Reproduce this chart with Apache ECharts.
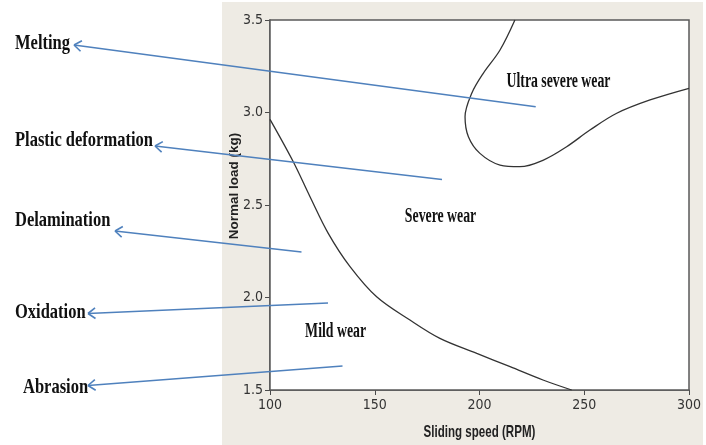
<!DOCTYPE html>
<html>
<head>
<meta charset="utf-8">
<script src="https://cdn.jsdelivr.net/npm/echarts@6/dist/echarts.min.js"></script>
<style>html,body{margin:0;padding:0;background:#fff;}#c{width:706px;height:445px;}</style>
</head>
<body>
<div id="c"></div>
<script>
// ---- data ----
const xTicks = [100, 150, 200, 250, 300];
const yTicks = [1.5, 2.0, 2.5, 3.0, 3.5];
// boundary between mild and severe wear [speed RPM, load kg]
const mildSevereBoundary = [
  [100, 2.963], [111.1, 2.734], [119.1, 2.545], [127.8, 2.347], [138.2, 2.167],
  [150.9, 2.004], [166.8, 1.878], [181.1, 1.779], [198.7, 1.698], [214.6, 1.626],
  [230.3, 1.554], [244.0, 1.5]
];
// boundary of ultra severe wear region
const ultraBoundary = [
  [216.9, 3.5], [209.8, 3.338], [201.8, 3.212], [196.3, 3.104], [193.1, 2.977],
  [194.7, 2.869], [200.2, 2.779], [209.8, 2.716], [219.3, 2.707], [230.5, 2.743],
  [241.6, 2.815], [252.7, 2.905], [265.5, 2.996], [281.4, 3.068], [300, 3.131]
];
const regionNames = ['Ultra severe wear', 'Severe wear', 'Mild wear'];
const regionPoints = [[237.7, 3.165], [181.4, 2.435], [131.3, 1.814]];
const mechanismNames = ['Melting', 'Plastic deformation', 'Delamination', 'Oxidation', 'Abrasion'];
const xTitle = 'Sliding speed (RPM)';
const yTitle = 'Normal load (kg)';

// ---- annotation layout (page pixels) ----
const labelAnchors = [[15, 43], [15, 140], [15, 220], [15, 312], [23, 387.5]];
const arrowTails = [[535.7, 106.7], [442, 179.5], [301.5, 252], [328, 303], [342.5, 366]];
const arrowTips = [[74, 45], [155, 146], [115, 231], [88, 313.5], [88, 385.5]];

const W = 706, H = 445;
const arrowSegs = [];
arrowTails.forEach((t, i) => {
  const p = arrowTips[i];
  arrowSegs.push({coords: [t, p]});
  const ang = Math.atan2(t[1] - p[1], t[0] - p[0]);
  const L = 9, a = 36 * Math.PI / 180;
  [ang + a, ang - a].forEach(g => {
    arrowSegs.push({coords: [p, [p[0] + L * Math.cos(g), p[1] + L * Math.sin(g)]]});
  });
});

const tickFont = '"DejaVu Sans Condensed", "Liberation Sans", sans-serif';
const sans = '"Liberation Sans", Arial, sans-serif';
const chart = echarts.init(document.getElementById('c'), null, {renderer: 'canvas'});
const option = {
  animation: false,
  backgroundColor: '#ffffff',
  grid: [
    {left: 270, right: 17, top: 20, bottom: 55, show: true, backgroundColor: '#ffffff',
     borderColor: '#5a5a5a', borderWidth: 1.5, z: 1},
    {left: 0, right: 0, top: 0, bottom: 0, show: false}
  ],
  xAxis: [
    {type: 'value', gridIndex: 0, min: 100, max: 300, interval: 50,
     axisLine: {show: true, lineStyle: {color: '#4a4a4a', width: 1.5}},
     axisTick: {show: true, inside: false, length: 5, lineStyle: {color: '#4a4a4a', width: 1}},
     axisLabel: {margin: 8, fontFamily: tickFont, fontSize: 14, color: '#333',
       formatter: v => xTicks.includes(v) ? String(v) : ''},
     splitLine: {show: false}},
    {type: 'value', gridIndex: 1, min: 0, max: W, show: false}
  ],
  yAxis: [
    {type: 'value', gridIndex: 0, min: 1.5, max: 3.5, interval: 0.5,
     name: yTitle, nameLocation: 'middle', nameGap: 29, nameRotate: 90, nameMoveOverlap: false,
     nameTextStyle: {fontFamily: sans, fontWeight: 'bold', fontSize: 13.5, color: '#222',
       padding: [0, 0, 0, 38]},
     axisLine: {show: true, lineStyle: {color: '#4a4a4a', width: 1.5}},
     axisTick: {show: true, inside: false, length: 5, lineStyle: {color: '#4a4a4a', width: 1}},
     axisLabel: {margin: 7, fontFamily: tickFont, fontSize: 14, color: '#333',
       formatter: v => yTicks.some(t => Math.abs(t - v) < 1e-9) ? v.toFixed(1) : ''},
     splitLine: {show: false}},
    {type: 'value', gridIndex: 1, min: 0, max: H, inverse: true, show: false}
  ],
  graphic: [
    {type: 'rect', id: 'panel', z: -100, silent: true,
     shape: {x: 222, y: 2, width: 481, height: 443}, style: {fill: '#EEEBE4'}}
  ],
  series: [
    {type: 'line', xAxisIndex: 0, yAxisIndex: 0, data: mildSevereBoundary, smooth: 0.35,
     symbol: 'none', lineStyle: {color: '#333', width: 1.3}, z: 3},
    {type: 'line', xAxisIndex: 0, yAxisIndex: 0, data: ultraBoundary, smooth: 0.35,
     symbol: 'none', lineStyle: {color: '#333', width: 1.3}, z: 3},
    {type: 'lines', coordinateSystem: 'cartesian2d', xAxisIndex: 1, yAxisIndex: 1,
     data: arrowSegs, symbol: 'none',
     lineStyle: {color: '#4F81BD', width: 1.6, opacity: 1, curveness: 0}, z: 5}
  ]
};
chart.setOption(option);

const serif = '"Liberation Serif", "Times New Roman", serif';
const texts = [];
mechanismNames.forEach((n, i) => {
  texts.push({type: 'text', z: 10, x: labelAnchors[i][0], y: labelAnchors[i][1],
    scaleX: 0.75, scaleY: 1, originX: 0, originY: 0,
    style: {text: n, fill: '#111', fontFamily: serif, fontWeight: 'bold', fontSize: 22,
      align: 'left', verticalAlign: 'middle', textAlign: 'left', textVerticalAlign: 'middle'}});
});
regionNames.forEach((n, i) => {
  const p = chart.convertToPixel({xAxisIndex: 0, yAxisIndex: 0}, regionPoints[i]);
  texts.push({type: 'text', z: 10, x: p[0], y: p[1],
    scaleX: 0.69, scaleY: 1, originX: 0, originY: 0,
    style: {text: n, fill: '#111', fontFamily: serif, fontWeight: 'bold', fontSize: 20,
      align: 'center', verticalAlign: 'middle', textAlign: 'center', textVerticalAlign: 'middle'}});
});
// x-axis title, centred under the plot area
const xMid = chart.convertToPixel({xAxisIndex: 0, yAxisIndex: 0}, [200, 1.5]);
texts.push({type: 'text', z: 10, x: xMid[0], y: xMid[1] + 42,
  scaleX: 0.68, scaleY: 1, originX: 0, originY: 0,
  style: {text: xTitle, fill: '#222', fontFamily: sans, fontWeight: 'bold', fontSize: 17,
    align: 'center', verticalAlign: 'middle', textAlign: 'center', textVerticalAlign: 'middle'}});
chart.setOption({graphic: option.graphic.concat(texts)});
</script>
</body>
</html>
